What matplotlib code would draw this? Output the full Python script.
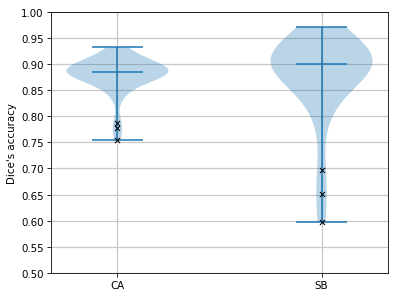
import numpy as np
import matplotlib.pyplot as plt

labels = ['CA', 'SB']
ca = [0.755, 0.777, 0.787, 0.835, 0.848, 0.856, 0.862, 0.866, 0.870, 0.873,
      0.875, 0.877, 0.879, 0.880, 0.881, 0.882, 0.883, 0.884, 0.8845, 0.885,
      0.886, 0.887, 0.888, 0.889, 0.890, 0.891, 0.892, 0.893, 0.895, 0.897,
      0.899, 0.901, 0.904, 0.907, 0.910, 0.914, 0.918, 0.923, 0.932]
sb = [0.597, 0.651, 0.698, 0.79, 0.825, 0.845, 0.86, 0.87, 0.878, 0.884,
      0.889, 0.893, 0.896, 0.898, 0.900, 0.902, 0.905, 0.908, 0.911, 0.914,
      0.917, 0.92, 0.924, 0.928, 0.933, 0.938, 0.945, 0.955, 0.971]
ca_out = [0.787, 0.777, 0.755]
sb_out = [0.698, 0.651, 0.597]

fig, ax = plt.subplots(figsize=(5.392, 4.04), dpi=74)
fig.subplots_adjust(left=0.128, right=0.972, top=0.957, bottom=0.084)
ax.violinplot([ca, sb], showmedians=True)
ax.scatter([1] * len(ca_out), ca_out, marker='x', color='k', s=25, linewidths=1, zorder=3)
ax.scatter([2] * len(sb_out), sb_out, marker='x', color='k', s=25, linewidths=1, zorder=3)
ax.set_xticks([1, 2])
ax.set_xticklabels(labels)
ax.set_yticks(np.arange(0.5, 1.001, 0.05))
ax.set_ylim(0.5, 1.0)
ax.set_ylabel("Dice's accuracy")
ax.grid(True, color='#c8c8c8', linewidth=1.2)
ax.set_axisbelow(True)
fig.savefig('out.png')
